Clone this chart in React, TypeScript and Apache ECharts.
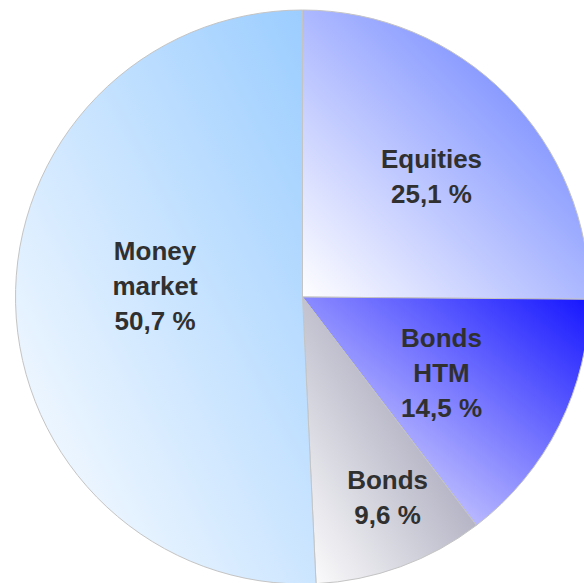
import React, { useEffect, useRef } from "react";
import * as echarts from "echarts";

const categories = ["Equities", "Bonds\nHTM", "Bonds", "Money\nmarket"];
const shares = [25.1, 14.5, 9.6, 50.7];
const endColors = ["#5a72ff", "#1414ff", "#8484a0", "#99ccff"];
// label nudges (px) from the default inside position
const labelNudges = [
  [25, -17],
  [8, 10],
  [35, 63],
  [-1, -14],
];

export default function App() {
  const ref = useRef<HTMLDivElement>(null);
  useEffect(() => {
    document.body.style.margin = "0";
    if (!ref.current) return;
    const chart = echarts.init(ref.current, undefined, { renderer: "svg" });
    const data = categories.map((name, i) => ({
      name,
      value: shares[i],
      itemStyle: {
        color: {
          type: "linear",
          x: 0,
          y: 1,
          x2: 1,
          y2: 0,
          colorStops: [
            { offset: 0, color: "#ffffff" },
            { offset: 1, color: endColors[i] },
          ],
        },
      },
    }));
    chart.setOption({
      animation: false,
      backgroundColor: "#ffffff",
      series: [
        {
          type: "pie",
          center: [302.5, 297],
          radius: [0, 287],
          startAngle: 90,
          clockwise: true,
          silent: true,
          data,
          itemStyle: { borderColor: "#c4c4c4", borderWidth: 1 },
          label: {
            show: true,
            position: "inside",
            color: "#303030",
            fontSize: 26,
            fontWeight: "bold",
            fontFamily: "Liberation Sans, Arial, sans-serif",
            lineHeight: 35,
            align: "center",
            formatter: (p: any) =>
              `${p.name}\n${Number(p.value).toFixed(1).replace(".", ",")} %`,
          },
          labelLine: { show: false },
          labelLayout: (p: any) => ({
            dx: labelNudges[p.dataIndex][0],
            dy: labelNudges[p.dataIndex][1],
          }),
          emphasis: { disabled: true },
        },
      ],
    });
    return () => chart.dispose();
  }, []);
  return <div ref={ref} style={{ width: 584, height: 583 }} />;
}
